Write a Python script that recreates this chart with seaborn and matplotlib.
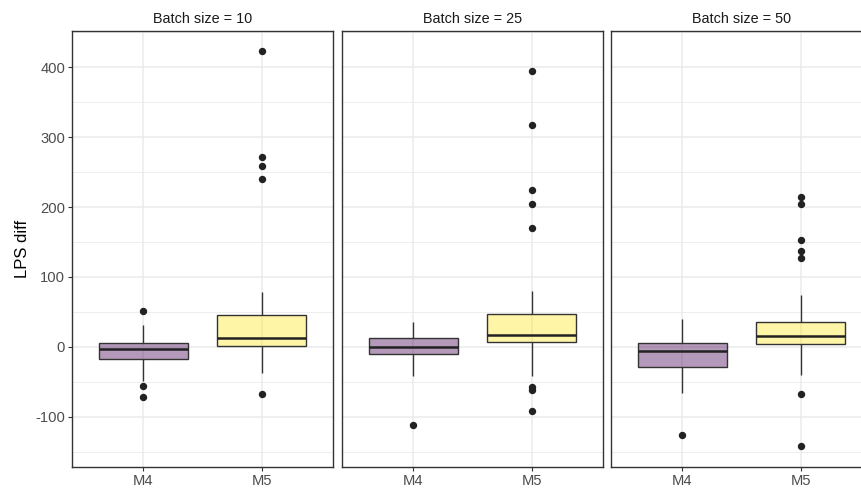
import numpy as np
import pandas as pd
import matplotlib
matplotlib.use("Agg")
import matplotlib.pyplot as plt
import seaborn as sns
from matplotlib.colors import to_rgba

# ---- data ----
batches = ["10", "25", "50"]
models = ["M4", "M5"]
# summary per (batch, model): lower whisker, Q1, median, Q3, upper whisker
whisk_lo = {"10": [-49, -36.6], "25": [-41.3, -41.3], "50": [-65.4, -39.8]}
q1 = {"10": [-16.6, 1.8], "25": [-10.0, 7.5], "50": [-29.0, 3.7]}
median = {"10": [-3.4, 13.2], "25": [-0.5, 16.5], "50": [-5.3, 15.1]}
q3 = {"10": [5.7, 45.0], "25": [12.2, 46.9], "50": [5.7, 35.0]}
whisk_hi = {"10": [31.7, 78.2], "25": [35.6, 79.7], "50": [40.3, 74.8]}
outliers = {
    "10": [[51.2, -56.0, -71.7], [422.9, 272.0, 258.3, 239.4, -66.9]],
    "25": [[-111.0], [394.0, 316.6, 224.2, 203.8, 169.7, -57.9, -61.7, -92.0]],
    "50": [[-126.2], [213.8, 203.8, 152.6, 137.4, 127.0, -67.9, -141.4]],
}
# number of copies of each quartile so the box statistics come out exactly
n_rep = 20

rows = []
for b in batches:
    for i, m in enumerate(models):
        vals = list(outliers[b][i]) + [whisk_lo[b][i], whisk_hi[b][i]]
        vals += [q1[b][i]] * n_rep + [median[b][i]] * n_rep + [q3[b][i]] * n_rep
        for v in vals:
            rows.append({"batch": b, "model": m, "value": v})
df = pd.DataFrame(rows)

colors = {"M4": "#440154", "M5": "#FDE725"}

sns.set_theme(style="white")
plt.rcParams["font.family"] = ["Liberation Sans", "DejaVu Sans"]
plt.rcParams["axes.unicode_minus"] = False

fig = plt.figure(figsize=(8.62, 4.91), dpi=100)
W, H = 862.0, 491.0
top_px, bot_px = 31, 467
lefts = [72, 342, 611]
width_px = 261

axes = []
for k, b in enumerate(batches):
    ax = fig.add_axes([lefts[k] / W, 1 - bot_px / H, width_px / W, (bot_px - top_px) / H])
    axes.append(ax)
    sub = df[df["batch"] == b]
    sns.boxplot(
        data=sub, x="model", y="value", hue="model", order=models, hue_order=models,
        palette=colors, legend=False, width=0.75, ax=ax, linecolor="#333333",
        linewidth=1.0, whis=1.5, showcaps=False,
        medianprops=dict(color="#222222", linewidth=1.8),
        flierprops=dict(marker="o", markersize=4.3, markerfacecolor="#222222",
                        markeredgecolor="#222222"),
        zorder=3,
    )
    for p, m in zip(ax.patches, models):
        p.set_facecolor(to_rgba(colors[m], 0.4))
    ax.set_xlim(-0.6, 1.6)
    ax.set_ylim(-171.6, 451.6)
    ax.set_yticks([-100, 0, 100, 200, 300, 400])
    ax.set_yticks([-150, -50, 50, 150, 250, 350, 450], minor=True)
    ax.grid(True, which="major", color="#ebebeb", linewidth=1.1, zorder=0)
    ax.grid(True, which="minor", axis="y", color="#ebebeb", linewidth=0.6, zorder=0)
    ax.set_axisbelow(True)
    for s in ax.spines.values():
        s.set_color("#333333")
        s.set_linewidth(1.0)
    ax.tick_params(axis="both", which="major", length=3, width=0.8, color="#333333",
                   labelcolor="#4d4d4d", labelsize=10.6, pad=2, direction="out",
                   bottom=True, left=True)
    ax.tick_params(axis="y", which="minor", length=0)
    ax.set_xlabel("")
    ax.set_title(f"Batch size = {b}", fontsize=10.4, color="#1a1a1a", pad=6)
    if k == 0:
        ax.set_ylabel("LPS diff", fontsize=12, color="black", labelpad=4)
    else:
        ax.set_ylabel("")
        ax.tick_params(axis="y", left=False, labelleft=False)
    if k == 2:
        ax.spines["right"].set_visible(False)

fig.savefig("out.png", dpi=100, facecolor="white")
